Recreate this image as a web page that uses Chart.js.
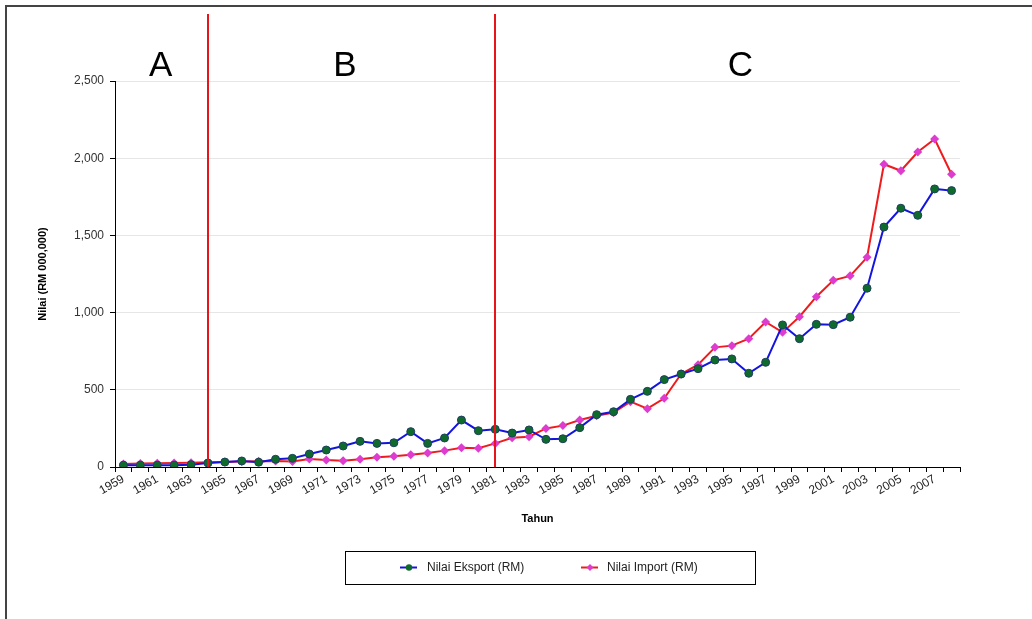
<!DOCTYPE html>
<html>
<head>
<meta charset="utf-8">
<script src="https://cdn.jsdelivr.net/npm/chart.js@4.4.0/dist/chart.umd.min.js"></script>
<style>
  html, body { margin: 0; padding: 0; background: #fff; overflow: hidden; }
  #wrap { position: relative; width: 1032px; height: 619px; }
  #frame { position: absolute; left: 5px; top: 5px; width: 1040px; height: 640px; border-left: 2px solid #444; border-top: 2px solid #444; box-sizing: border-box; pointer-events: none; }
  canvas { position: absolute; left: 0; top: 0; }
</style>
</head>
<body>
<div id="wrap">
  <canvas id="c" width="1032" height="619"></canvas>
  <div id="frame"></div>
</div>
<script>
const years = ['1959','1960','1961','1962','1963','1964','1965','1966','1967','1968',
  '1969','1970','1971','1972','1973','1974','1975','1976','1977','1978',
  '1979','1980','1981','1982','1983','1984','1985','1986','1987','1988',
  '1989','1990','1991','1992','1993','1994','1995','1996','1997','1998',
  '1999','2000','2001','2002','2003','2004','2005','2006','2007','2008'];

const eksport = [12,12,12,12,15, 26,32,39,31,50, 56,84,110,136,166, 153,157,229,153,188,
  304,235,244,220,240, 179,183,255,339,358, 438,490,566,602,637, 693,700,607,678,920,
  831,924,922,970,1158, 1554,1676,1630,1801,1790];

const importVals = [20,22,24,26,28, 30,33,36,38,39, 35,52,45,41,50, 63,69,80,91,106,
  125,121,153,189,196, 250,268,304,332,352, 423,378,445,602,663, 775,786,831,939,872,
  973,1103,1209,1238,1358, 1961,1919,2040,2124,1896];

const yTicks = [0, 500, 1000, 1500, 2000, 2500];
const periodLines = ['1964', '1981'];
const periodLetters = [{ text: 'A', at: 2.2 }, { text: 'B', at: 13.1 }, { text: 'C', at: 36.5 }];
const seriesNames = ['Nilai Eksport (RM)', 'Nilai Import (RM)'];

const periodPlugin = {
  id: 'periods',
  afterDatasetsDraw(chart) {
    const ctx = chart.ctx, xs = chart.scales.x, area = chart.chartArea;
    ctx.save();
    ctx.strokeStyle = '#e8141c';
    ctx.lineWidth = 2;
    periodLines.forEach(y => {
      const px = Math.round(xs.getPixelForValue(years.indexOf(y)));
      ctx.beginPath();
      ctx.moveTo(px, 14);
      ctx.lineTo(px, area.bottom);
      ctx.stroke();
    });
    ctx.fillStyle = '#000';
    ctx.font = '35px Arial, "Liberation Sans", sans-serif';
    ctx.textAlign = 'center';
    ctx.textBaseline = 'middle';
    periodLetters.forEach(l => {
      const i0 = Math.floor(l.at), f = l.at - i0;
      const px = xs.getPixelForValue(i0) + f * (xs.getPixelForValue(i0 + 1) - xs.getPixelForValue(i0));
      ctx.fillText(l.text, px, 66);
    });
    ctx.restore();
  }
};

const legendPlugin = {
  id: 'boxLegend',
  afterDraw(chart) {
    const ctx = chart.ctx;
    ctx.save();
    ctx.strokeStyle = '#000';
    ctx.lineWidth = 1;
    ctx.strokeRect(345.5, 551.5, 410, 33);
    const items = [{ x: 400, tx: 427 }, { x: 581, tx: 607 }];
    const cy = 567.5;
    chart.data.datasets.forEach((ds, i) => {
      const it = items[i];
      ctx.strokeStyle = ds.borderColor;
      ctx.lineWidth = 2;
      ctx.beginPath();
      ctx.moveTo(it.x, cy);
      ctx.lineTo(it.x + 17, cy);
      ctx.stroke();
      ctx.fillStyle = ds.pointBackgroundColor;
      const mx = it.x + 9;
      ctx.beginPath();
      if (ds.pointStyle === 'rectRot') {
        ctx.moveTo(mx, cy - 3.5); ctx.lineTo(mx + 3.5, cy); ctx.lineTo(mx, cy + 3.5); ctx.lineTo(mx - 3.5, cy);
        ctx.closePath();
      } else {
        ctx.arc(mx, cy, 3.2, 0, Math.PI * 2);
      }
      ctx.fill();
      ctx.fillStyle = '#222';
      ctx.font = '12px Arial, "Liberation Sans", sans-serif';
      ctx.textAlign = 'left';
      ctx.textBaseline = 'middle';
      ctx.fillText(ds.label, it.tx, cy);
    });
    ctx.restore();
  }
};

new Chart(document.getElementById('c'), {
  type: 'line',
  data: {
    labels: years,
    datasets: [
      {
        label: seriesNames[0],
        data: eksport,
        borderColor: '#1414e0',
        borderWidth: 2,
        pointStyle: 'circle',
        pointRadius: 4,
        pointBackgroundColor: '#0f6b2c',
        pointBorderColor: '#1d3f5e',
        pointBorderWidth: 1,
        tension: 0
      },
      {
        label: seriesNames[1],
        data: importVals,
        borderColor: '#ee1c1c',
        borderWidth: 2,
        pointStyle: 'rectRot',
        pointRadius: 4.5,
        pointBackgroundColor: '#dd3ccf',
        pointBorderColor: '#dd3ccf',
        pointBorderWidth: 0,
        tension: 0
      }
    ]
  },
  options: {
    responsive: false,
    animation: false,
    layout: { padding: { left: 0, top: 81, right: 72, bottom: 82 } },
    plugins: { legend: { display: false }, tooltip: { enabled: false } },
    scales: {
      x: {
        offset: true,
        grid: { offset: true, drawOnChartArea: false, tickLength: 5, tickColor: '#000' },
        border: { color: '#000', width: 1 },
        ticks: {
          autoSkip: false,
          maxRotation: 30, minRotation: 30,
          padding: 0,
          color: '#222',
          font: { family: 'Arial, "Liberation Sans", sans-serif', size: 12 },
          callback: function (v, i) { return i % 2 === 0 ? years[i] : ''; }
        },
        title: {
          display: true, text: 'Tahun', color: '#000',
          font: { family: 'Arial, "Liberation Sans", sans-serif', size: 11, weight: 'bold' },
          padding: { top: 0, bottom: 11 }
        },
        afterFit(s) { s.height = 70; }
      },
      y: {
        min: 0, max: 2500,
        afterBuildTicks(s) { s.ticks = yTicks.map(v => ({ value: v })); },
        grid: { color: '#e6e6e6', tickLength: 5, tickColor: '#000' },
        border: { color: '#000', width: 1 },
        ticks: {
          padding: 6,
          color: '#333',
          font: { family: 'Arial, "Liberation Sans", sans-serif', size: 12 },
          callback: v => v.toLocaleString('en-US')
        },
        title: {
          display: true, text: 'Nilai (RM 000,000)', color: '#000',
          font: { family: 'Arial, "Liberation Sans", sans-serif', size: 11, weight: 'bold' },
          padding: { top: 36, bottom: 0 }
        },
        afterFit(s) { s.width = 115; }
      }
    }
  },
  plugins: [periodPlugin, legendPlugin]
});
</script>
</body>
</html>
